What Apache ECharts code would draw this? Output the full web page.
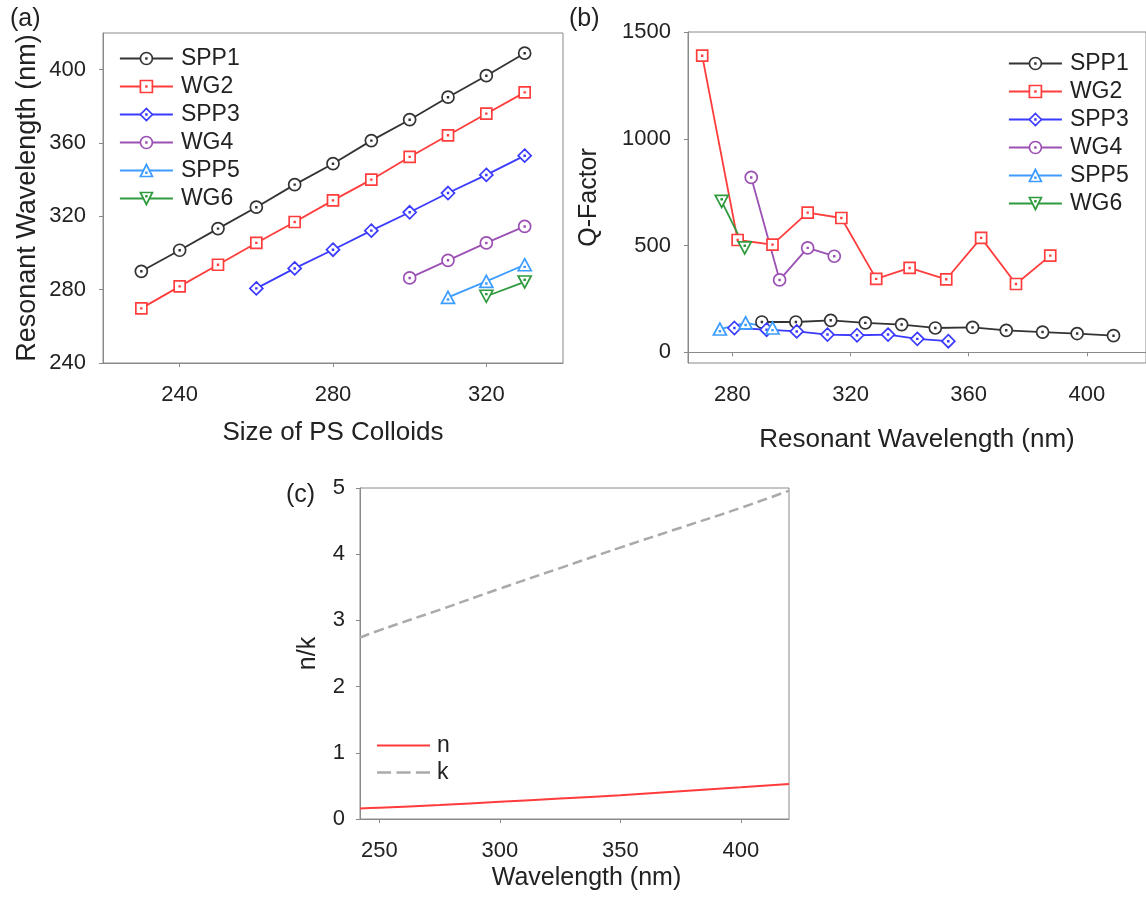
<!DOCTYPE html>
<html>
<head>
<meta charset="utf-8">
<script src="https://cdn.jsdelivr.net/npm/echarts@6/dist/echarts.min.js"></script>
<style>html,body{margin:0;padding:0;background:#fff;}#c{width:1146px;height:907px;}</style>
</head>
<body>
<div id="c"></div>
<script>
// ---------- Data ----------
const seriesNames = ['SPP1', 'WG2', 'SPP3', 'WG4', 'SPP5', 'WG6'];

// Panel (a): size of PS colloids vs resonant wavelength
const spp1Size = [230, 240, 250, 260, 270, 280, 290, 300, 310, 320, 330];
const spp1Wl   = [290, 301.5, 313.3, 325, 337.3, 348.7, 361.3, 372.7, 385, 396.7, 409];
const wg2Size  = [230, 240, 250, 260, 270, 280, 290, 300, 310, 320, 330];
const wg2Wl    = [269.8, 281.8, 293.6, 305.5, 316.9, 328.7, 340, 352.4, 364.2, 376, 387.6];
const spp3Size = [260, 270, 280, 290, 300, 310, 320, 330];
const spp3Wl   = [280.7, 291.6, 301.8, 312.2, 322.2, 332.7, 342.6, 353.1];
const wg4Size  = [300, 310, 320, 330];
const wg4Wl    = [286.4, 296, 305.5, 314.5];
const spp5Size = [310, 320, 330];
const spp5Wl   = [275.8, 284.5, 293.6];
const wg6Size  = [320, 330];
const wg6Wl    = [276.4, 284.2];

// Panel (b): Q-factor vs resonant wavelength
const spp1Q = [142, 142, 150, 138, 130, 114, 117, 103, 95, 88, 78];
const wg2Q  = [1389, 526, 504, 654, 629, 344, 395, 342, 536, 320, 453];
const spp3Q = [114, 106, 98, 83, 80, 83, 63, 52];
const wg4Q  = [819, 339, 489, 450];
const spp5Q = [109, 138, 114];
const wg6Q  = [707, 489];

// Panel (c): n/k vs wavelength
const wlC   = [242, 250, 275, 300, 325, 350, 375, 400, 420];
const nVals = [0.16, 0.17, 0.21, 0.26, 0.31, 0.36, 0.42, 0.48, 0.53];
const kVals = [2.74, 2.85, 3.16, 3.48, 3.79, 4.10, 4.40, 4.70, 4.96];

// Tick labels
const xTicksA = [240, 280, 320];
const yTicksA = [240, 280, 320, 360, 400];
const xTicksB = [280, 320, 360, 400];
const yTicksB = [0, 500, 1000, 1500];
const xTicksC = [250, 300, 350, 400];
const yTicksC = [0, 1, 2, 3, 4, 5];

// ---------- Styles ----------
const FONT = '"Liberation Sans", Arial, Helvetica, sans-serif';
const TXT = '#222';
const AX = '#8a8a8a';
const LW = 1.8;
const colors = {SPP1: '#333333', WG2: '#ff3d3d', SPP3: '#3b3bff', WG4: '#9b50b4', SPP5: '#3d9cff', WG6: '#2f9a3e'};
const symbols = {
  SPP1: 'path://M50,0 A50,50 0 1,1 50,100 A50,50 0 1,1 50,0 Z M47,47 H53 V53 H47 Z',
  WG2:  'path://M0,0 H100 V100 H0 Z M47,47 H53 V53 H47 Z',
  SPP3: 'path://M50,0 L100,50 L50,100 L0,50 Z M47,47 H53 V53 H47 Z',
  WG4:  'path://M50,0 A50,50 0 1,1 50,100 A50,50 0 1,1 50,0 Z M47,47 H53 V53 H47 Z',
  SPP5: 'path://M50,0 L100,90 L0,90 Z M47,58 H53 V64 H47 Z',
  WG6:  'path://M0,0 L100,0 L50,90 Z M47,26 H53 V32 H47 Z'
};
const symSize = {SPP1: 12, WG2: 11, SPP3: 13, WG4: 12, SPP5: [13, 12], WG6: [13, 12]};

function pairs(xs, ys) { return xs.map((x, i) => [x, ys[i]]); }

const dataA = {
  SPP1: pairs(spp1Size, spp1Wl), WG2: pairs(wg2Size, wg2Wl), SPP3: pairs(spp3Size, spp3Wl),
  WG4: pairs(wg4Size, wg4Wl), SPP5: pairs(spp5Size, spp5Wl), WG6: pairs(wg6Size, wg6Wl)
};
const dataB = {
  SPP1: pairs(spp1Wl, spp1Q), WG2: pairs(wg2Wl, wg2Q), SPP3: pairs(spp3Wl, spp3Q),
  WG4: pairs(wg4Wl, wg4Q), SPP5: pairs(spp5Wl, spp5Q), WG6: pairs(wg6Wl, wg6Q)
};

function mkSeries(name, data, gi) {
  const c = colors[name];
  return {
    type: 'line', name: name, xAxisIndex: gi, yAxisIndex: gi, data: data,
    symbol: symbols[name], symbolSize: symSize[name],
    lineStyle: {color: c, width: LW},
    itemStyle: {color: '#ffffff', borderColor: c, borderWidth: 1.7},
    animation: false, emphasis: {disabled: true}
  };
}

function legendItems() {
  return seriesNames.map(n => ({
    name: n,
    itemStyle: {color: '#ffffff', borderColor: colors[n], borderWidth: 1.7},
    lineStyle: {color: colors[n], width: LW}
  }));
}

function lbl(ticks, margin) {
  return {customValues: ticks, fontSize: 22, color: TXT, fontFamily: FONT, margin: margin,
          formatter: v => String(v)};
}

function valAxis(gi, min, max, ticks, name, nameGap, margin, nameSize, extra) {
  return Object.assign({
    type: 'value', gridIndex: gi, min: min, max: max,
    axisLine: {show: true, lineStyle: {color: AX, width: 1}},
    axisTick: {show: true, customValues: ticks, length: 4, inside: false, lineStyle: {color: AX}},
    axisLabel: lbl(ticks, margin),
    splitLine: {show: false},
    name: name, nameLocation: 'middle', nameGap: nameGap,
    nameTextStyle: {fontSize: nameSize, color: TXT, fontFamily: FONT}
  }, extra || {});
}

const series = [];
seriesNames.forEach(n => series.push(mkSeries(n, dataA[n], 0)));
seriesNames.forEach(n => series.push(mkSeries(n, dataB[n], 1)));
series.push({
  type: 'line', name: 'n', xAxisIndex: 2, yAxisIndex: 2, data: pairs(wlC, nVals),
  symbol: 'none', smooth: true, lineStyle: {color: '#ff3b3b', width: 2}, itemStyle: {color: '#ff3b3b'},
  animation: false
});
series.push({
  type: 'line', name: 'k', xAxisIndex: 2, yAxisIndex: 2, data: pairs(wlC, kVals),
  symbol: 'none', smooth: true, lineStyle: {color: '#aaaaaa', width: 2.5, type: [10, 5]}, itemStyle: {color: '#aaaaaa'},
  animation: false
});

const legendBase = {
  orient: 'vertical', itemWidth: 53, itemHeight: 15, itemGap: 5,
  textStyle: {fontSize: 23, color: TXT, fontFamily: FONT, lineHeight: 23, padding: [0, 0, 0, 3]},
  selectedMode: false, inactiveColor: '#222'
};

const option = {
  backgroundColor: '#ffffff',
  animation: false,
  textStyle: {fontFamily: FONT},
  grid: [
    {left: 103, top: 33, width: 460, height: 330, show: true, borderColor: AX, borderWidth: 1},
    {left: 688, top: 32, width: 460, height: 331, show: true, borderColor: AX, borderWidth: 1},
    {left: 360, top: 488, width: 429, height: 331, show: true, borderColor: AX, borderWidth: 1}
  ],
  xAxis: [
    valAxis(0, 220, 340, xTicksA, 'Size of PS Colloids', 57, 21, 26),
    valAxis(1, 265, 420, xTicksB, 'Resonant Wavelength (nm)', 64, 21, 26),
    valAxis(2, 242, 420, xTicksC, 'Wavelength (nm)', 47, 21, 25, {
      nameTextStyle: {fontSize: 25, color: TXT, fontFamily: FONT, padding: [0, 0, 0, 24]}
    })
  ],
  yAxis: [
    valAxis(0, 240, 420, yTicksA, 'Resonant Wavelength (nm)', 62, 17, 27),
    valAxis(1, -50, 1500, yTicksB, 'Q-Factor', 86, 17, 25),
    valAxis(2, 0, 5, yTicksC, 'n/k', 39, 15, 25)
  ],
  legend: [
    Object.assign({}, legendBase, {left: 114, top: 42, data: legendItems()}),
    Object.assign({}, legendBase, {left: 1003, top: 47, data: legendItems()}),
    Object.assign({}, legendBase, {
      left: 372, top: 729, itemGap: 4, itemHeight: 3,
      textStyle: {fontSize: 23, color: TXT, fontFamily: FONT, lineHeight: 23, padding: [0, 0, 0, 2]},
      data: [
        {name: 'n', icon: 'path://M0,0 H53 V2 H0 Z', itemStyle: {color: '#ff3b3b'}},
        {name: 'k', icon: 'path://M0,0 H13 V2.5 H0 Z M18,0 H31 V2.5 H18 Z M36,0 H49 V2.5 H36 Z', itemStyle: {color: '#aaaaaa'}}
      ]
    })
  ],
  graphic: [
    {type: 'text', left: 10, top: 7, style: {text: '(a)', fontSize: 25, fill: TXT, fontFamily: FONT}},
    {type: 'text', left: 569, top: 7, style: {text: '(b)', fontSize: 25, fill: TXT, fontFamily: FONT}},
    {type: 'text', left: 286, top: 483, style: {text: '(c)', fontSize: 25, fill: TXT, fontFamily: FONT}}
  ],
  series: series
};

const chart = echarts.init(document.getElementById('c'), null, {renderer: 'canvas'});
chart.setOption(option);
</script>
</body>
</html>
